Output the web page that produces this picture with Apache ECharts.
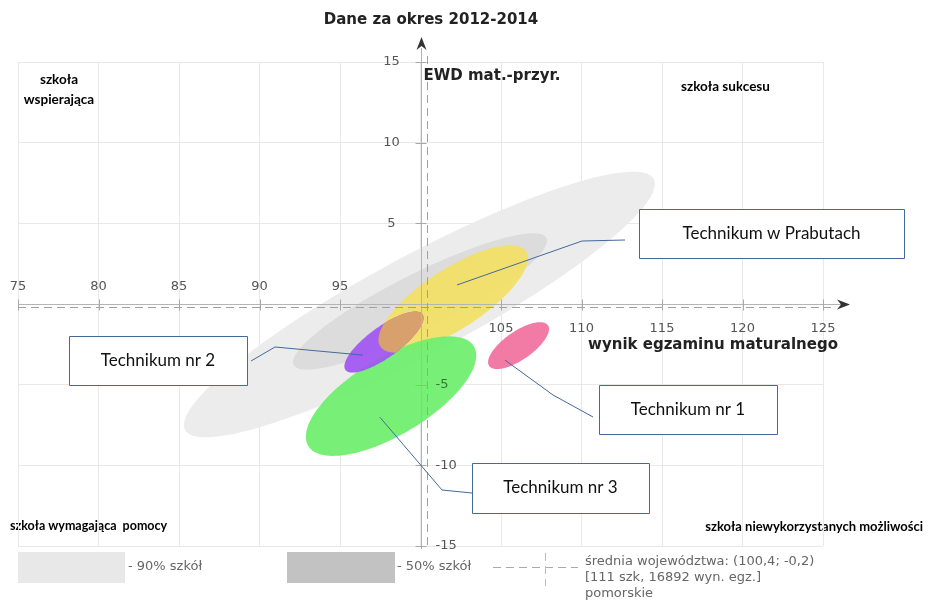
<!DOCTYPE html>
<html>
<head>
<meta charset="utf-8">
<script src="https://cdn.jsdelivr.net/npm/echarts@6/dist/echarts.min.js"></script>
<style>
html, body { margin: 0; padding: 0; background: #fff; }
#chart { width: 930px; height: 602px; }
</style>
</head>
<body>
<div id="chart"></div>
<script>
// osie
var xTicks = [75, 80, 85, 90, 95, 100, 105, 110, 115, 120, 125];
var yTicks = [-15, -10, -5, 0, 5, 10, 15];
var average = [100.4, -0.2];

// elipsy: srodek, polosie (jednostki danych), kat obrotu w stopniach
var names = ['90% szkół', '50% szkół', 'Technikum nr 2', 'Technikum w Prabutach', 'Technikum nr 3', 'Technikum nr 1'];
var centresX = [99.93, 99.97, 97.73, 102.03, 98.17, 106.09];
var centresY = [-0.03, 0.16, -2.36, 0.31, -5.71, -2.58];
var semiA = [16.5, 8.78, 2.95, 5.4, 6.0, 2.22];
var semiB = [3.07, 1.73, 0.96, 1.86, 2.4, 0.88];
var angles = [28.1, 26.6, 35.8, 33, 30.9, 34.7];

// podpisy szkol i punkty, na ktore wskazuja
var calloutNames = ['Technikum w Prabutach', 'Technikum nr 2', 'Technikum nr 1', 'Technikum nr 3'];
var calloutTargetX = [102.27, 96.43, 105.25, 97.48];
var calloutTargetY = [1.18, -3.17, -3.48, -7.02];

// ---- wyglad ----
var colors = ['#ececec', '#dcdcdc', '#a055f2', '#f2df64', '#6cef6c', '#f0709c'];
var overlapColor = '#d8a06c';
var calloutBoxes = [[639, 209, 265, 49], [69, 336, 178, 49], [599, 385, 178, 49], [472, 463, 177, 50]];
var calloutLeaders = [[[625, 240], [582, 241]], [[251, 361], [275, 347]], [[593, 417], [553, 395]], [[472, 493], [442, 490]]];
var blue = '#44699b';

function ellipsePts (i, n) {
  var th = angles[i] * Math.PI / 180
  var pts = []
  for (var k = 0; k < n; k++) {
    var t = 2 * Math.PI * k / n
    pts.push([
      centresX[i] + semiA[i] * Math.cos(th) * Math.cos(t) - semiB[i] * Math.sin(th) * Math.sin(t),
      centresY[i] + semiA[i] * Math.sin(th) * Math.cos(t) + semiB[i] * Math.cos(th) * Math.sin(t)
    ])
  }
  return pts
}
function inside (p, i) {
  var th = angles[i] * Math.PI / 180
  var dx = p[0] - centresX[i]
  var dy = p[1] - centresY[i]
  var u = dx * Math.cos(th) + dy * Math.sin(th)
  var v = -dx * Math.sin(th) + dy * Math.cos(th)
  return u * u / (semiA[i] * semiA[i]) + v * v / (semiB[i] * semiB[i]) <= 1
}
// czesc wspolna dwoch elips (obie wypukle)
function overlapPts (i, j) {
  var pts = ellipsePts(i, 180).filter(function (p) { return inside(p, j) })
    .concat(ellipsePts(j, 180).filter(function (p) { return inside(p, i) }))
  var cx = 0, cy = 0
  pts.forEach(function (p) { cx += p[0]; cy += p[1] })
  cx /= pts.length; cy /= pts.length
  pts.sort(function (a, b) { return Math.atan2(a[1] - cy, a[0] - cx) - Math.atan2(b[1] - cy, b[0] - cx) })
  return pts
}

// kolejnosc rysowania, -1 = czesc wspolna nr 2 i Prabuty
var drawOrder = [0, 1, 3, 4, 2, -1, 5];

var myChart = echarts.init(document.getElementById('chart'))

var tickFont = '13px "DejaVu Sans"'
var boldFont = 'bold 15px "DejaVu Sans"'
var quadFont = 'bold 13.5px Lato'

myChart.setOption({
  animation: false,
  grid: { left: 18, right: 107, top: 62, bottom: 56 },
  xAxis: {
    type: 'value', min: 75, max: 125, interval: 5,
    axisLine: { show: false }, axisTick: { show: false }, axisLabel: { show: false },
    splitLine: { lineStyle: { color: '#e8e8e8' } }
  },
  yAxis: {
    type: 'value', min: -15, max: 15, interval: 5,
    axisLine: { show: false }, axisTick: { show: false }, axisLabel: { show: false },
    splitLine: { lineStyle: { color: '#e8e8e8' } }
  },
  series: [
    {
      type: 'custom',
      name: 'elipsy',
      silent: true,
      data: drawOrder.map(function (i) { return [i < 0 ? 100 : centresX[i], i < 0 ? 0 : centresY[i], i] }),
      renderItem: function (params, api) {
        var i = api.value(2)
        var pts = i < 0 ? overlapPts(2, 3) : ellipsePts(i, 120)
        return {
          type: 'polygon',
          shape: { points: pts.map(function (p) { return api.coord(p) }) },
          style: { fill: i < 0 ? overlapColor : colors[i], opacity: i < 2 ? 1 : 0.92 }
        }
      }
    },
    {
      type: 'custom',
      name: 'osie',
      silent: true,
      data: [[100, 0]],
      renderItem: function (params, api) {
        var o = api.coord([100, 0])
        var left = api.coord([75, 0])[0]
        var right = api.coord([125, 0])[0]
        var top = api.coord([100, 15])[1]
        var bottom = api.coord([100, -15])[1]
        var m = api.coord(average)
        var ch = []
        var x0 = Math.round(o[0]) + 0.5
        var y0 = Math.round(o[1]) + 0.5
        // linie osi
        ch.push({ type: 'line', shape: { x1: left, y1: y0, x2: right + 18, y2: y0 }, style: { stroke: '#b4b4b4', lineWidth: 1 } })
        ch.push({ type: 'line', shape: { x1: x0, y1: bottom + 3, x2: x0, y2: top - 14 }, style: { stroke: '#b4b4b4', lineWidth: 1 } })
        // srednia wojewodztwa
        var mx = Math.round(m[0]) + 0.5
        var my = Math.round(m[1]) + 0.5
        ch.push({ type: 'line', shape: { x1: left, y1: my, x2: right + 8, y2: my }, style: { stroke: '#a0a0a0', lineWidth: 1, lineDash: [8, 5] } })
        ch.push({ type: 'line', shape: { x1: mx, y1: top - 6, x2: mx, y2: bottom + 4 }, style: { stroke: '#a0a0a0', lineWidth: 1, lineDash: [8, 5] } })
        // strzalki
        var ax = right + 27
        ch.push({ type: 'polygon', shape: { points: [[ax, y0], [ax - 13, y0 - 5], [ax - 9, y0], [ax - 13, y0 + 5]] }, style: { fill: '#333' } })
        var ay = top - 25
        ch.push({ type: 'polygon', shape: { points: [[x0, ay], [x0 - 5, ay + 13], [x0, ay + 9], [x0 + 5, ay + 13]] }, style: { fill: '#333' } })
        // znaczniki i etykiety
        xTicks.forEach(function (v) {
          if (v === 100) return
          var p = api.coord([v, 0])
          var px = Math.round(p[0]) + 0.5
          ch.push({ type: 'line', shape: { x1: px, y1: y0 - 5, x2: px, y2: y0 + 6 }, style: { stroke: '#a8a8a8', lineWidth: 1 } })
          ch.push({
            type: 'text', x: p[0], y: v < 100 ? y0 - 18 : y0 + 24,
            style: { text: String(v), font: tickFont, fill: '#555', align: 'center', verticalAlign: 'middle' }
          })
        })
        yTicks.forEach(function (v) {
          if (v === 0) return
          var p = api.coord([100, v])
          var py = Math.round(p[1]) + 0.5
          ch.push({ type: 'line', shape: { x1: x0 - 6, y1: py, x2: x0 + 5, y2: py }, style: { stroke: '#a8a8a8', lineWidth: 1 } })
          ch.push({
            type: 'text', x: v > 0 ? x0 - 30 : x0 + 14, y: p[1],
            style: { text: String(v), font: tickFont, fill: v === -5 ? '#2f7a2f' : '#555', align: v > 0 ? 'center' : 'left', verticalAlign: 'middle' }
          })
        })
        // nazwy osi
        ch.push({ type: 'text', x: right + 15, y: y0 + 41, style: { text: 'wynik egzaminu maturalnego', font: boldFont, fill: '#222', align: 'right', verticalAlign: 'middle' } })
        ch.push({ type: 'text', x: x0 + 2, y: top + 14, style: { text: 'EWD mat.-przyr.', font: boldFont, fill: '#222', align: 'left', verticalAlign: 'middle' } })
        return { type: 'group', children: ch }
      },
      z: 3
    },
    {
      type: 'custom',
      name: 'podpisy',
      silent: true,
      data: calloutNames.map(function (n, i) { return [calloutTargetX[i], calloutTargetY[i], i] }),
      renderItem: function (params, api) {
        var i = api.value(2)
        var t = api.coord([api.value(0), api.value(1)])
        var b = calloutBoxes[i]
        var l = calloutLeaders[i]
        return {
          type: 'group',
          children: [
            { type: 'polyline', shape: { points: [l[0], l[1], t] }, style: { stroke: blue, lineWidth: 1, fill: null } },
            { type: 'rect', shape: { x: b[0] + 0.5, y: b[1] + 0.5, width: b[2], height: b[3] }, style: { fill: '#fff', stroke: blue, lineWidth: 1 } },
            { type: 'text', x: b[0] + b[2] / 2, y: b[1] + b[3] / 2, style: { text: calloutNames[i], font: '17px Lato', fill: '#111', align: 'center', verticalAlign: 'middle' } }
          ]
        }
      },
      z: 4
    }
  ],
  graphic: [
    { type: 'text', x: 431, y: 20, style: { text: 'Dane za okres 2012-2014', font: boldFont, fill: '#222', align: 'center', verticalAlign: 'middle' } },
    { type: 'text', x: 59, y: 80, style: { text: 'szkoła', font: quadFont, fill: '#000', align: 'center', verticalAlign: 'middle' } },
    { type: 'text', x: 59, y: 100, style: { text: 'wspierająca', font: quadFont, fill: '#000', align: 'center', verticalAlign: 'middle' } },
    { type: 'text', x: 681, y: 87, style: { text: 'szkoła sukcesu', font: quadFont, fill: '#000', align: 'left', verticalAlign: 'middle' } },
    { type: 'text', x: 10, y: 526, style: { text: 'szkoła wymagająca  pomocy', font: 'bold 12.5px Lato', fill: '#000', align: 'left', verticalAlign: 'middle' } },
    { type: 'text', x: 923, y: 527, style: { text: 'szkoła niewykorzystanych możliwości', font: 'bold 13px Lato', fill: '#000', align: 'right', verticalAlign: 'middle' } },
    // legenda
    { type: 'rect', shape: { x: 18, y: 552, width: 107, height: 31 }, style: { fill: '#e8e8e8' } },
    { type: 'text', x: 128, y: 567, style: { text: '- 90% szkół', font: '13px "DejaVu Sans"', fill: '#666', align: 'left', verticalAlign: 'middle' } },
    { type: 'rect', shape: { x: 287, y: 552, width: 108, height: 31 }, style: { fill: '#c2c2c2' } },
    { type: 'text', x: 397, y: 567, style: { text: '- 50% szkół', font: '13px "DejaVu Sans"', fill: '#666', align: 'left', verticalAlign: 'middle' } },
    { type: 'line', shape: { x1: 493, y1: 567.5, x2: 578, y2: 567.5 }, style: { stroke: '#aaa', lineWidth: 1, lineDash: [8, 5] } },
    { type: 'line', shape: { x1: 545.5, y1: 553, x2: 545.5, y2: 586 }, style: { stroke: '#bbb', lineWidth: 1, lineDash: [8, 5] } },
    { type: 'text', x: 585, y: 562, style: { text: 'średnia województwa: (100,4; -0,2)', font: '13px "DejaVu Sans"', fill: '#666', align: 'left', verticalAlign: 'middle' } },
    { type: 'text', x: 585, y: 578, style: { text: '[111 szk, 16892 wyn. egz.]', font: '13px "DejaVu Sans"', fill: '#666', align: 'left', verticalAlign: 'middle' } },
    { type: 'text', x: 585, y: 594, style: { text: 'pomorskie', font: '13px "DejaVu Sans"', fill: '#666', align: 'left', verticalAlign: 'middle' } }
  ]
})
</script>
</body>
</html>
